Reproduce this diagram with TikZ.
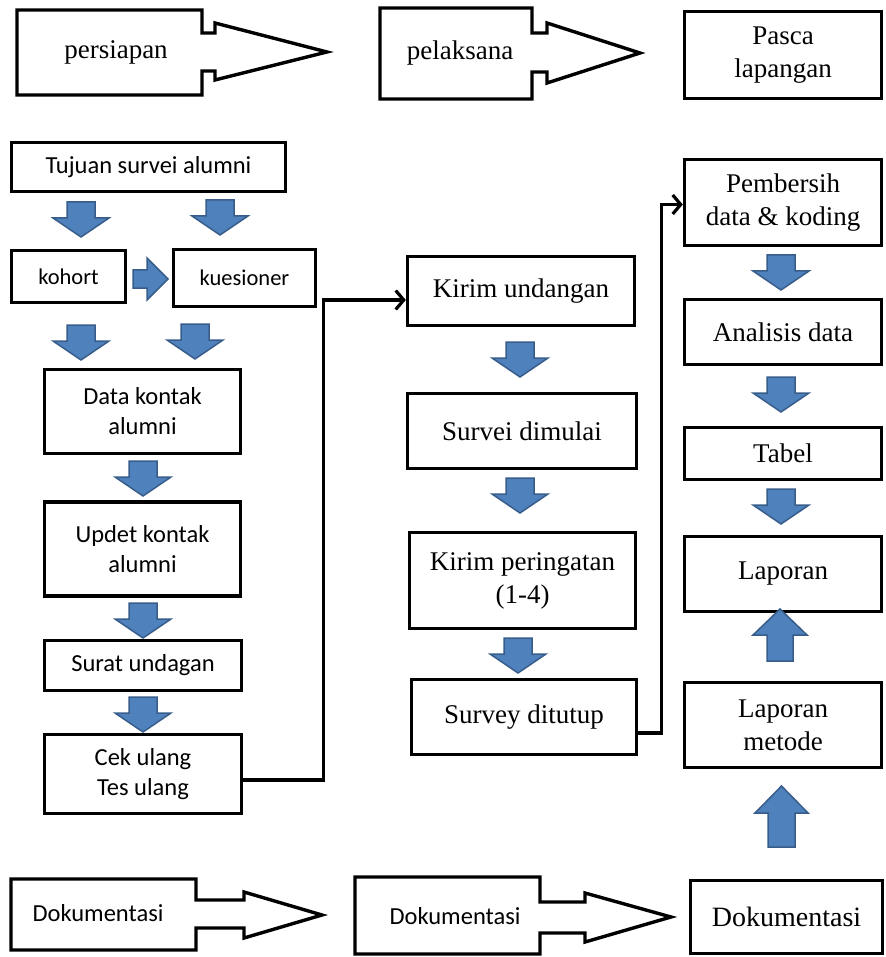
\documentclass[tikz,border=0pt]{standalone}
\usepackage{fontspec}
\setmainfont{Liberation Serif}
\newfontfamily\carl{Carlito}
\usetikzlibrary{arrows.meta}
\definecolor{arrfill}{HTML}{4F81BD}
\definecolor{arrline}{HTML}{385D8A}
\newcommand\tmsz{\fontsize{27}{33}\selectfont}
\newcommand\clsz{\carl\fontsize{24.5}{30}\selectfont}
\begin{document}
\begin{tikzpicture}[x=1pt,y=-1pt,
  box/.style={draw, line width=3.4pt, inner sep=0pt, align=center, font=\tmsz},
  cbox/.style={box, font=\clsz},
  callout/.style={draw, line width=3.4pt, line join=miter},
  lbl/.style={inner sep=0pt, align=center, font=\tmsz},
  arr/.style={fill=arrfill, draw=arrline, line width=1.5pt, line join=miter},
  conn/.style={line width=3.2pt},
  bdown/.pic={\path[arr] (-14,0) -- (14,0) -- (14,16) -- (28,16) -- (0,35) -- (-28,16) -- (-14,16) -- cycle;},
  bright/.pic={\path[arr] (0,-9) -- (14,-9) -- (14,-21) -- (35,0) -- (14,21) -- (14,9) -- (0,9) -- cycle;}
]
\useasboundingbox (0,0) rectangle (885,957);

% ---- top row ----
\draw[callout] (17,10) -- (202,10) -- (202,33) -- (215,33) -- (215,23) -- (327,52)
  -- (215,80) -- (215,71) -- (202,71) -- (202,95) -- (17,95) -- cycle;
\node[lbl] (persiapan) at (116,52) {persiapan};
\draw[callout] (380,8) -- (532,8) -- (532,33) -- (547,33) -- (547,23) -- (640,53)
  -- (547,83) -- (547,72) -- (532,72) -- (532,99) -- (380,99) -- cycle;
\node[lbl] (pelaksana) at (460,53) {pelaksana};
\node[box, minimum width=197pt, minimum height=87pt] (pasca) at (783,55) {Pasca\\lapangan};

% ---- left column ----
\node[cbox, minimum width=274pt, minimum height=49pt] (tujuan) at (148.5,167) {Tujuan survei alumni};
\pic at (81,202) {bdown};
\pic at (220,200) {bdown};
\node[cbox, font=\carl\fontsize{22.5}{28}\selectfont, minimum width=114pt, minimum height=52pt] (kohort) at (68.5,276.5) {kohort};
\pic at (133,279) {bright};
\node[cbox, font=\carl\fontsize{22.5}{28}\selectfont, minimum width=142pt, minimum height=57pt] (kuesioner) at (244.5,278) {kuesioner};
\pic at (81,325) {bdown};
\pic at (195,324) {bdown};
\node[cbox, minimum width=196pt, minimum height=84pt] (data) at (142.5,411.5) {Data kontak\\alumni};
\pic at (143,461) {bdown};
\node[cbox, minimum width=196pt, minimum height=94pt] (updet) at (142.5,549) {Updet kontak\\alumni};
\pic at (143,603) {bdown};
\node[cbox, minimum width=197pt, minimum height=50pt] (surat) at (143,665.5) {Surat undagan};
\pic at (143,697) {bdown};
\node[cbox, minimum width=197pt, minimum height=79pt] (cek) at (143,774) {Cek ulang\\Tes ulang};

% ---- middle column ----
\node[box, minimum width=227pt, minimum height=69pt] (kirim) at (521,291) {Kirim undangan};
\pic at (520,342) {bdown};
\node[box, minimum width=229pt, minimum height=75pt] (survei) at (522,431) {Survei dimulai};
\pic at (520,478) {bdown};
\node[box, minimum width=226pt, minimum height=96pt] (peringatan) at (522.5,580.5) {Kirim peringatan\\(1-4)};
\pic at (518,638) {bdown};
\node[box, minimum width=225pt, minimum height=75pt] (ditutup) at (524,717) {Survey ditutup};

% ---- right column ----
\node[box, minimum width=197pt, minimum height=86pt] (pembersih) at (783,202.5) {Pembersih\\data \& koding};
\pic at (781,255) {bdown};
\node[box, minimum width=197pt, minimum height=65pt] (analisis) at (783,332) {Analisis data};
\pic at (781,377) {bdown};
\node[box, minimum width=197pt, minimum height=52pt] (tabel) at (783,453.5) {Tabel};
\pic at (781,489) {bdown};
\node[box, minimum width=197pt, minimum height=75pt] (laporan) at (783,574) {Laporan};
\node[box, minimum width=197pt, minimum height=85pt] (metode) at (783,725) {Laporan\\metode};
\path[arr] (780,609) -- (807,635) -- (793,635) -- (793,661) -- (767,661) -- (767,635) -- (753,635) -- cycle;
\path[arr] (781.5,786) -- (808,813) -- (795,813) -- (795,847) -- (768,847) -- (768,813) -- (755,813) -- cycle;

% ---- connectors ----
\draw[conn, -{Straight Barb[length=8pt,width=19pt]}] ([yshift=-6pt]cek.east) -- ++(80,0) |- ([yshift=-9pt]kirim.west);
\draw[conn, -{Straight Barb[length=8pt,width=19pt]}] ([yshift=-16pt]ditutup.east) -- ++(23,0) |- ([yshift=-2pt]pembersih.west);

% ---- bottom row ----
\draw[callout] (11,879) -- (196,879) -- (196,900) -- (244,900) -- (244,892) -- (322,915)
  -- (244,938) -- (244,928) -- (196,928) -- (196,950) -- (11,950) -- cycle;
\node[lbl, font=\carl\fontsize{24.5}{30}\selectfont] (dok1) at (98,913) {Dokumentasi};
\draw[callout] (355,877) -- (540,877) -- (540,902) -- (585,902) -- (585,893) -- (671,917)
  -- (585,942) -- (585,933) -- (540,933) -- (540,954) -- (355,954) -- cycle;
\node[lbl, font=\carl\fontsize{24.5}{30}\selectfont] (dok2) at (455,916) {Dokumentasi};
\node[box, font=\fontsize{28}{33}\selectfont, minimum width=192pt, minimum height=73pt] (dok3) at (786.5,917) {Dokumentasi};
\end{tikzpicture}
\end{document}
